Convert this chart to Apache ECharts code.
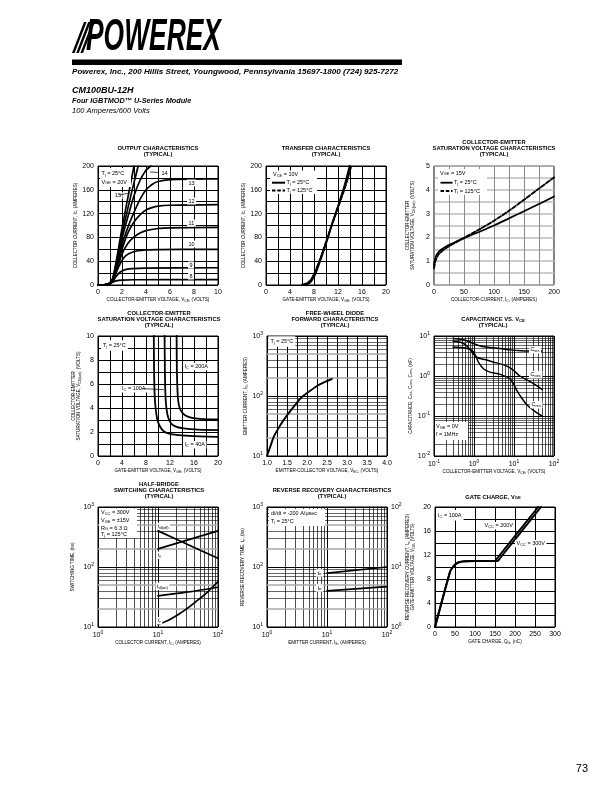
<!DOCTYPE html>
<html><head><meta charset="utf-8">
<script src="https://cdn.jsdelivr.net/npm/echarts@6/dist/echarts.min.js"></script>
<style>html,body{margin:0;padding:0;background:#fff}#c{width:612px;height:792px}</style>
</head><body><div id="c"></div>
<script>
const FONT = '"Liberation Sans", Arial, Helvetica, sans-serif';
const BLACK = '#000';

// ================= DATA =================
// 1. Output characteristics (Tj = 25C): [V_CE (V), I_C (A)] for each V_GE
const outVge8  = [[0,0],[0.5,0.1],[0.9,1],[1.2,4.5],[1.5,7],[2,8.3],[3,8.8],[10,9.2]];
const outVge9  = [[0,0],[0.5,0.2],[0.9,1.2],[1.2,5],[1.5,14],[1.8,21],[2.2,25.5],[2.8,27.5],[4,28.5],[10,29]];
const outVge10 = [[0,0],[0.5,0.2],[0.9,1.5],[1.2,6],[1.5,20],[1.8,34],[2.2,47],[2.6,53],[3.3,57.5],[4,59],[5,59.5],[10,60]];
const outVge11 = [[0,0],[0.5,0.3],[0.9,2],[1.2,7],[1.5,22],[2,52],[2.5,70],[3,81],[3.5,87.5],[4,91.5],[5,95],[6,96],[10,97]];
const outVge12 = [[0,0],[0.5,0.3],[0.9,2],[1.2,8],[1.5,26],[2,60],[2.5,88],[3,106],[3.5,118],[4,126],[4.5,130],[5,132.5],[6,134],[10,135]];
const outVge13 = [[0,0],[0.5,0.3],[0.9,2],[1.2,8],[1.5,28],[2,68],[2.6,103],[3,122],[3.5,144],[4,160],[4.5,169],[5,174],[6,177],[8,178],[10,178.5]];
const outVge14 = [[0,0],[0.5,0.3],[0.9,2],[1.2,9],[1.5,31],[2,78],[2.5,115],[3,150],[3.5,176],[4,193],[4.4,200]];
const outVge15 = [[0,0],[0.5,0.3],[0.9,2],[1.2,9],[1.5,34],[2,85],[2.5,130],[3,172],[3.35,200]];
const outVge20 = [[0,0],[0.5,0.3],[0.9,2],[1.2,10],[1.5,38],[2,95],[2.5,148],[3,200]];
const outTicksX = [0,2,4,6,8,10];
const outTicksY = [0,40,80,120,160,200];

// 2. Transfer characteristics (V_CE = 10V): [V_GE (V), I_C (A)]
const trans25  = [[6,0],[7,2],[7.5,6],[8,14],[8.5,26],[9,40],[9.5,55],[10,70],[10.5,86],[11,102],[11.5,117],[12,132],[12.5,148],[13,164],[13.5,182],[13.95,200]];
const trans125 = [[6,0],[7,4],[7.5,9],[8,18],[8.5,30],[9,43],[9.5,57],[10,72],[10.5,87],[11,102],[11.5,116],[12,130],[12.5,145],[13,159],[13.5,175],[14.2,200]];
const transTicksX = [0,4,8,12,16,20];
const transTicksY = [0,40,80,120,160,200];

// 3. Collector-emitter saturation voltage vs I_C (V_GE = 15V): [I_C (A), V_CE(sat) (V)]
const satIc25  = [[0,0.85],[1,1.0],[3,1.2],[6,1.33],[10,1.45],[20,1.62],[30,1.74],[50,1.97],[75,2.23],[100,2.5],[125,2.8],[150,3.1],[175,3.4],[200,3.72]];
const satIc125 = [[0,0.7],[1,0.85],[3,1.05],[6,1.22],[10,1.35],[20,1.55],[30,1.7],[50,1.98],[75,2.33],[100,2.7],[125,3.12],[150,3.58],[175,4.05],[200,4.52]];
const satIcTicksX = [0,50,100,150,200];
const satIcTicksY = [0,1,2,3,4,5];

// 4. Collector-emitter saturation voltage vs V_GE (Tj = 25C): [V_GE (V), V_CE(sat) (V)]
const satVge40  = [[9.3,10],[9.35,7],[9.45,5],[9.6,4],[9.9,3],[10.4,2.4],[11,2.05],[12,1.85],[14,1.72],[17,1.64],[20,1.6]];
const satVge100 = [[11.1,10],[11.15,7],[11.25,5],[11.4,4],[11.7,3.2],[12.2,2.7],[13,2.45],[14,2.32],[16,2.22],[20,2.15]];
const satVge200 = [[13.1,10],[13.15,7],[13.3,5],[13.5,4.2],[13.9,3.7],[14.5,3.4],[15.5,3.2],[17,3.1],[20,3.05]];
const satVgeTicksX = [0,4,8,12,16,20];
const satVgeTicksY = [0,2,4,6,8,10];

// 5. Free-wheel diode forward characteristics: [V_EC (V), I_E (A)]
const diodeFwd = [[1.0,10],[1.1,15.5],[1.17,21],[1.3,30],[1.42,40],[1.6,58],[1.85,93],[2.0,112],[2.27,150],[2.45,172],[2.62,192]];
const diodeTicksX = [1.0,1.5,2.0,2.5,3.0,3.5,4.0];
const diodeExpY = [1,2,3];

// 6. Capacitance vs V_CE: [V_CE (V), C (nF)]
const capCies = [[0.3,8.6],[0.5,8.2],[0.7,7.4],[1,6.4],[1.3,5.8],[2,5.3],[3,5.1],[5,4.8],[8,4.5],[15,4.3],[30,4.2],[50,4.2]];
const capCoes = [[0.3,7.5],[0.5,6.8],[0.67,5.6],[0.85,4.2],[1,3.4],[1.2,2.9],[1.6,2.65],[2.1,2.5],[3,2.25],[5.5,1.9],[8,1.6],[10,1.35],[14,1.0],[20,0.82],[30,0.65],[50,0.46]];
const capCres = [[0.3,5.3],[0.6,5.0],[0.9,4.4],[1.1,3.2],[1.3,2.2],[1.75,1.5],[2.5,1.25],[4.5,1.1],[8,0.85],[10,0.6],[12,0.42],[16,0.27],[21,0.19],[30,0.14],[50,0.1]];
const capExpX = [-1,0,1,2];
const capExpY = [-2,-1,0,1];

// 7. Half-bridge switching characteristics: [I_C (A), time (ns)]
const swTdOff = [[10,400],[30,242],[100,140]];
const swTf    = [[10,200],[100,400]];
const swTdOn  = [[10,33],[30,38],[100,46]];
const swTr    = [[10,11],[15,13],[21.5,16],[30,20],[46,28],[68,39],[100,57]];
const swExpX = [0,1,2];
const swExpY = [1,2,3];

// 8. Reverse recovery: [I_E (A), t_rr (ns)] and [I_E (A), I_rr (A)]
const rrTrr = [[10,79],[100,100]];
const rrIrr = [[10,4.0],[100,4.7]];
const rrExpX = [0,1,2];
const rrExpYL = [1,2,3];
const rrExpYR = [0,1,2];

// 9. Gate charge (I_C = 100A): [Q_G (nC), V_GE (V)]
const qg200 = [[0,0],[38,9.3],[45,10.0],[52,10.5],[60,10.8],[75,10.95],[100,11],[150,11],[156,11.5],[258,20]];
const qg300 = [[0,0],[38,9.3],[45,10.0],[52,10.5],[60,10.8],[75,10.95],[100,11],[157,11],[163,11.5],[265,20]];
const qgTicksX = [0,50,100,150,200,250,300];
const qgTicksY = [0,4,8,12,16,20];

// ================= LAYOUT / STYLE HELPERS =================
const GRIDS = [[98,166,119],[266,166,119],[434,166,119],[98,336,120],[267,336,120],[434,336,120],[98,507,120],[267,507,120],[435,507,120]];

const tickRich = { p: { fontSize: 5, fontFamily: FONT, color: BLACK, verticalAlign: 'top', padding: [0,0,5,0] } };
const nameRich = { s: { fontSize: 3.5, fontFamily: FONT, color: BLACK, padding: [2.2,0,0,0] } };

function linFmt(ticks, dec) {
  return v => { const t = ticks.find(t => Math.abs(t - v) < 1e-6); return t === undefined ? '' : t.toFixed(dec); };
}
function logFmt(exps) {
  return v => { const e = Math.round(Math.log10(v)); return exps.includes(e) ? '10{p|' + e + '}' : ''; };
}
function axis(gi, type, min, max, fmt, o) {
  o = o || {};
  const a = {
    gridIndex: gi, type, min, max,
    axisLine: { show: false }, axisTick: { show: false },
    axisLabel: { formatter: fmt, fontFamily: FONT, fontSize: 7, color: BLACK, margin: o.margin || 3.5, rich: tickRich },
    splitLine: { show: true, lineStyle: { color: o.splitColor || BLACK, width: o.splitWidth || 1, type: 'solid' } },
    name: o.name || '', nameLocation: 'middle', nameGap: o.nameGap || 12,
    nameTextStyle: { fontFamily: FONT, fontSize: 4.6, color: BLACK, lineHeight: 5.5, rich: nameRich },
    z: 1
  };
  if (type === 'log') a.logBase = 10;
  if (o.interval !== undefined) a.interval = o.interval;
  if (o.position) a.position = o.position;
  if (o.splitShow === false) a.splitLine.show = false;
  return a;
}
function minorVals(lo, hi) {
  const out = [];
  for (let e = Math.round(Math.log10(lo)); e < Math.round(Math.log10(hi)); e++)
    for (let m = 2; m <= 9; m++) out.push(+(m * Math.pow(10, e)).toPrecision(3));
  return out;
}
function mant(v) { return Math.round(v / Math.pow(10, Math.floor(Math.log10(v) + 1e-9))); }
function hStyle(v, mixed) {
  const m = mant(v);
  if (mixed && (m === 2 || m === 5)) return { color: '#a8a8a8', width: 1.6, type: 'solid' };
  return { color: BLACK, width: 0.6, type: 'solid' };
}
function minorMark(xVals, yVals, mixed) {
  const data = [];
  xVals.forEach(v => data.push({ xAxis: v, lineStyle: { color: BLACK, width: 0.7, type: 'solid' } }));
  yVals.forEach(v => data.push({ yAxis: v, lineStyle: hStyle(v, mixed) }));
  return { silent: true, symbol: ['none','none'], label: { show: false }, animation: false, z: 1,
    lineStyle: { type: 'solid' }, emphasis: { disabled: true }, data };
}
function ln(data, xi, yi, o) {
  o = o || {};
  const s = { type: 'line', data, xAxisIndex: xi, yAxisIndex: yi, showSymbol: false, symbol: 'none',
    smooth: o.smooth === undefined ? 0.3 : o.smooth, silent: true, animation: false, z: 5, clip: true,
    lineStyle: { color: BLACK, width: o.width || 1.7, type: o.type || 'solid', cap: 'round', join: 'round' } };
  if (o.markLine) s.markLine = o.markLine;
  return s;
}

// ---------- graphic helpers ----------
function T(x, y, text, o) {
  o = o || {};
  const fs = o.fs || 5.5;
  const st = {
    text, x: 0, y: 0,
    font: (o.italic ? 'italic ' : '') + (o.bold ? 'bold ' : '') + fs + 'px ' + FONT,
    fill: BLACK, align: o.align || 'left', verticalAlign: o.va || 'middle',
    textAlign: o.align || 'left', textVerticalAlign: o.va || 'middle',
    lineHeight: o.lh || undefined,
    rich: { s: { fontSize: fs * 0.72, fontFamily: FONT, fontWeight: o.bold ? 'bold' : 'normal', fill: BLACK, padding: [fs * 0.45,0,0,0] } }
  };
  if (o.bg) { st.backgroundColor = '#fff'; st.padding = o.pad || [0.5, 1.5]; }
  const el = { type: 'text', x, y, z: 100, silent: true, style: st };
  if (o.scaleX) el.scaleX = o.scaleX;
  return el;
}
function L(x1, y1, x2, y2, o) {
  o = o || {};
  return { type: 'line', z: 101, silent: true, shape: { x1, y1, x2, y2 },
    style: { stroke: BLACK, lineWidth: o.w || 0.7, lineDash: o.dash || null } };
}
function R(x, y, w, h) {
  return { type: 'rect', z: 99, silent: true, shape: { x, y, width: w, height: h }, style: { fill: '#fff' } };
}
function title(cx, ys, lines) {
  return lines.map((t, i) => T(cx, ys[i], t, { bold: true, fs: 5.8, align: 'center' }));
}

// ================= AXES =================
const xAxis = [
  axis(0, 'value', 0, 10, linFmt(outTicksX, 0), { interval: 1, name: 'COLLECTOR-EMITTER VOLTAGE, V{s|CE}, (VOLTS)' }),
  axis(1, 'value', 0, 20, linFmt(transTicksX, 0), { interval: 2, name: 'GATE-EMITTER VOLTAGE, V{s|GE}, (VOLTS)' }),
  axis(2, 'value', 0, 200, linFmt(satIcTicksX, 0), { interval: 25, splitColor: '#8a8a8a', splitWidth: 1, name: 'COLLECTOR-CURRENT, I{s|C}, (AMPERES)' }),
  axis(3, 'value', 0, 20, linFmt(satVgeTicksX, 0), { interval: 2, name: 'GATE-EMITTER VOLTAGE, V{s|GE}, (VOLTS)' }),
  axis(4, 'value', 1, 4, linFmt(diodeTicksX, 1), { interval: 0.25, name: 'EMITTER-COLLECTOR VOLTAGE, V{s|EC}, (VOLTS)' }),
  axis(5, 'log', 0.1, 100, logFmt(capExpX), { name: 'COLLECTOR-EMITTER VOLTAGE, V{s|CE}, (VOLTS)' }),
  axis(6, 'log', 1, 100, logFmt(swExpX), { name: 'COLLECTOR CURRENT, I{s|C}, (AMPERES)' }),
  axis(7, 'log', 1, 100, logFmt(rrExpX), { name: 'EMITTER CURRENT, I{s|E}, (AMPERES)' }),
  axis(8, 'value', 0, 300, linFmt(qgTicksX, 0), { interval: 50, name: 'GATE CHARGE, Q{s|G}, (nC)' })
];
const yAxis = [
  axis(0, 'value', 0, 200, linFmt(outTicksY, 0), { interval: 20, margin: 4, name: 'COLLECTOR CURRENT, I{s|C}, (AMPERES)', nameGap: 19.5 }),
  axis(1, 'value', 0, 200, linFmt(transTicksY, 0), { interval: 20, margin: 4, name: 'COLLECTOR CURRENT, I{s|C}, (AMPERES)', nameGap: 18.5 }),
  axis(2, 'value', 0, 5, linFmt(satIcTicksY, 0), { interval: 0.5, margin: 4, splitColor: '#bdbdbd', splitWidth: 1.5, name: 'COLLECTOR-EMITTER\nSATURATION VOLTAGE, V{s|CE(sat)}, (VOLTS)', nameGap: 18.5 }),
  axis(3, 'value', 0, 10, linFmt(satVgeTicksY, 0), { interval: 1, margin: 4, name: 'COLLECTOR-EMITTER\nSATURATION VOLTAGE, V{s|CE(sat)}, (VOLTS)', nameGap: 15.5 }),
  axis(4, 'log', 10, 1000, logFmt(diodeExpY), { margin: 4, name: 'EMITTER CURRENT, I{s|E}, (AMPERES)', nameGap: 16.5 }),
  axis(5, 'log', 0.01, 10, logFmt(capExpY), { margin: 4, name: 'CAPACITANCE, C{s|ies}, C{s|oes}, C{s|res}, (nF)', nameGap: 21 }),
  axis(6, 'log', 10, 1000, logFmt(swExpY), { margin: 4, name: 'SWITCHING TIME, (ns)', nameGap: 22.5 }),
  axis(7, 'log', 10, 1000, logFmt(rrExpYL), { margin: 4, name: 'REVERSE RECOVERY TIME, t{s|rr}, (ns)', nameGap: 21.5 }),
  axis(7, 'log', 1, 100, logFmt(rrExpYR), { margin: 4, position: 'right', splitShow: false, name: 'REVERSE RECOVERY CURRENT, I{s|rr}, (AMPERES)', nameGap: 14.5 }),
  axis(8, 'value', 0, 20, linFmt(qgTicksY, 0), { interval: 2, margin: 4, name: 'GATE-EMITTER VOLTAGE, V{s|GE}, (VOLTS)', nameGap: 19.5 })
];

// ================= SERIES =================
const series = [
  ln(outVge8, 0, 0), ln(outVge9, 0, 0), ln(outVge10, 0, 0), ln(outVge11, 0, 0), ln(outVge12, 0, 0),
  ln(outVge13, 0, 0), ln(outVge14, 0, 0), ln(outVge15, 0, 0), ln(outVge20, 0, 0),
  ln(trans25, 1, 1, { width: 2 }), ln(trans125, 1, 1, { width: 2, type: [4, 2] }),
  ln(satIc25, 2, 2, { width: 1.7 }), ln(satIc125, 2, 2, { width: 1.9, type: [4, 2] }),
  ln(satVge40, 3, 3, { width: 1.8, smooth: 0.25 }), ln(satVge100, 3, 3, { width: 1.8, smooth: 0.25 }), ln(satVge200, 3, 3, { width: 1.8, smooth: 0.25 }),
  ln(diodeFwd, 4, 4, { width: 1.9, markLine: minorMark([], minorVals(10, 1000), true) }),
  ln(capCies, 5, 5, { width: 1.5, markLine: minorMark(minorVals(0.1, 100), minorVals(0.01, 10), false) }),
  ln(capCoes, 5, 5, { width: 1.5 }), ln(capCres, 5, 5, { width: 1.5 }),
  ln(swTdOff, 6, 6, { width: 1.7, markLine: minorMark(minorVals(1, 100), minorVals(10, 1000), true) }),
  ln(swTf, 6, 6, { width: 1.7 }), ln(swTdOn, 6, 6, { width: 1.7 }), ln(swTr, 6, 6, { width: 1.7 }),
  ln(rrTrr, 7, 7, { width: 1.7, markLine: minorMark(minorVals(1, 100), minorVals(10, 1000), true) }),
  ln(rrIrr, 7, 8, { width: 1.7 }),
  ln(qg200, 8, 9, { width: 2, smooth: 0.2 }), ln(qg300, 8, 9, { width: 2, smooth: 0.2 })
];

// ================= GRAPHIC (header, titles, annotations) =================
const graphic = [];
// logo
[0, 1, 2].forEach(i => graphic.push({ type: 'polygon', z: 50, silent: true,
  shape: { points: [[72 + i * 4.2, 53], [74.6 + i * 4.2, 53], [86.6 + i * 4.2, 22], [84 + i * 4.2, 22]] }, style: { fill: BLACK } }));
graphic.push({ type: 'text', x: 86, y: 37.5, scaleX: 0.6, z: 50, silent: true,
  style: { text: 'POWEREX', font: 'italic 900 44px ' + FONT, fill: BLACK, align: 'left', verticalAlign: 'middle', textAlign: 'left', textVerticalAlign: 'middle' } });
graphic.push({ type: 'rect', z: 50, silent: true, shape: { x: 72, y: 59.5, width: 330, height: 5.5 }, style: { fill: BLACK } });
graphic.push(T(72, 72, 'Powerex, Inc., 200 Hillis Street, Youngwood, Pennsylvania 15697-1800 (724) 925-7272', { bold: true, italic: true, fs: 8.1 }));
graphic.push(T(72, 91, 'CM100BU-12H', { bold: true, italic: true, fs: 9 }));
graphic.push(T(72, 100.5, 'Four IGBTMOD™ U-Series Module', { bold: true, italic: true, fs: 7.3 }));
graphic.push(T(72, 111, '100 Amperes/600 Volts', { italic: true, fs: 7.5 }));
graphic.push(T(588, 769, '73', { fs: 11, align: 'right' }));

// titles
graphic.push(...title(158, [148, 154.5], ['OUTPUT CHARACTERISTICS', '(TYPICAL)']));
graphic.push(...title(326, [148, 154.5], ['TRANSFER CHARACTERISTICS', '(TYPICAL)']));
graphic.push(...title(494, [142, 148, 154.5], ['COLLECTOR-EMITTER', 'SATURATION VOLTAGE CHARACTERISTICS', '(TYPICAL)']));
graphic.push(...title(159, [313.5, 319.5, 325.5], ['COLLECTOR-EMITTER', 'SATURATION VOLTAGE CHARACTERISTICS', '(TYPICAL)']));
graphic.push(...title(335, [313.5, 319.5, 325.5], ['FREE-WHEEL DIODE', 'FORWARD CHARACTERISTICS', '(TYPICAL)']));
graphic.push(...title(493, [319.5, 325.5], ['CAPACITANCE VS. V{s|CE}', '(TYPICAL)']));
graphic.push(...title(159, [484, 490, 496], ['HALF-BRIDGE', 'SWITCHING CHARACTERISTICS', '(TYPICAL)']));
graphic.push(...title(332, [490.5, 496.5], ['REVERSE RECOVERY CHARACTERISTICS', '(TYPICAL)']));
graphic.push(...title(493, [497], ['GATE CHARGE, V{s|GE}']));

// chart 1 annotations
graphic.push(R(100, 168, 31, 19));
graphic.push(T(101.5, 173.5, 'T{s|j} = 25°C'), T(101.5, 182, 'V{s|GE} = 20V'));
graphic.push(T(187, 183, '13', { bg: true }), T(187, 201, '12', { bg: true }), T(187, 223, '11', { bg: true }),
  T(187, 244, '10', { bg: true }), T(188, 265, '9', { bg: true }), T(188, 276, '8', { bg: true }));
graphic.push(T(160, 173, '14', { bg: true }), L(150, 172, 159, 172.5));
graphic.push(T(113.5, 195.5, '15', { bg: true }), L(119.5, 195, 129.5, 193));

// chart 2 legend
graphic.push(R(270, 170.5, 47, 23.5));
graphic.push(T(273, 174.5, 'V{s|CE} = 10V'));
graphic.push(L(272, 182.7, 285, 182.7, { w: 2 }), T(286.5, 182.7, 'T{s|j} = 25°C'));
graphic.push(L(272, 190.5, 285, 190.5, { w: 2, dash: [3.5, 1.8] }), T(286.5, 190.5, 'T{s|j} = 125°C'));

// chart 3 legend
graphic.push(R(438, 169, 49, 26));
graphic.push(T(440, 173, 'V{s|GE} = 15V'));
graphic.push(L(440.5, 182.7, 452.5, 182.7, { w: 1.8 }), T(454, 182.7, 'T{s|j} = 25°C'));
graphic.push(L(440.5, 191, 452.5, 191, { w: 1.8, dash: [3.5, 1.8] }), T(454, 191, 'T{s|j} = 125°C'));

// chart 4 annotations
graphic.push(T(101, 345.5, 'T{s|j} = 25°C', { bg: true, pad: [2, 2] }));
graphic.push(T(183, 366.5, 'I{s|C} = 200A', { bg: true }));
graphic.push(T(120.5, 388.7, 'I{s|C} = 100A', { bg: true }), L(143, 388.7, 164, 389.7));
graphic.push(T(183, 444.7, 'I{s|C} = 40A', { bg: true }));

// chart 5
graphic.push(T(268.5, 341.5, 'T{s|j} = 25°C', { bg: true, pad: [2, 2] }));

// chart 6
graphic.push(T(529, 349.7, 'C{s|ies}', { bg: true }), T(529, 374.7, 'C{s|oes}', { bg: true }), T(530, 404.7, 'C{s|res}', { bg: true }));
graphic.push(R(435, 422, 33, 18));
graphic.push(T(436, 426.3, 'V{s|GE} = 0V'), T(436, 434.7, 'f = 1MHz'));

// chart 7
graphic.push(R(99, 508.5, 38, 29.5));
graphic.push(T(101, 512.5, 'V{s|CC} = 300V'), T(101, 520.5, 'V{s|GE} = ±15V'), T(101, 528, 'R{s|G} = 6.3 Ω'), T(101, 534.5, 'T{s|j} = 125°C'));
graphic.push(T(156.5, 526.3, 't{s|d(off)}', { bg: true }), T(156.5, 555.3, 't{s|f}', { bg: true }),
  T(155.5, 586.3, 't{s|d(on)}', { bg: true }), T(156.5, 620.7, 't{s|r}', { bg: true }));

// chart 8
graphic.push(R(269, 509, 56, 17));
graphic.push(T(271, 513.7, 'di/dt = -200 A/μsec'), T(271, 521, 'T{s|j} = 25°C'));
graphic.push(T(316, 573, 't{s|rr}', { bg: true }), T(316, 588, 'I{s|rr}', { bg: true }));

// chart 9
graphic.push(T(436, 515.3, 'I{s|C} = 100A', { bg: true, pad: [2, 2] }));
graphic.push(T(483, 525.7, 'V{s|CC} = 200V', { bg: true }));
graphic.push(T(515, 543.7, 'V{s|CC} = 300V', { bg: true }));

// ================= CHART =================
const chart = echarts.init(document.getElementById('c'), null, { renderer: 'canvas', width: 612, height: 792 });
chart.setOption({
  backgroundColor: '#fff',
  animation: false,
  grid: GRIDS.map(g => ({ left: g[0], top: g[1], width: 120, height: g[2], show: true, borderColor: BLACK, borderWidth: 1,
    backgroundColor: 'transparent', containLabel: false, outerBoundsMode: 'none' })),
  xAxis, yAxis, series, graphic
});
</script></body></html>
